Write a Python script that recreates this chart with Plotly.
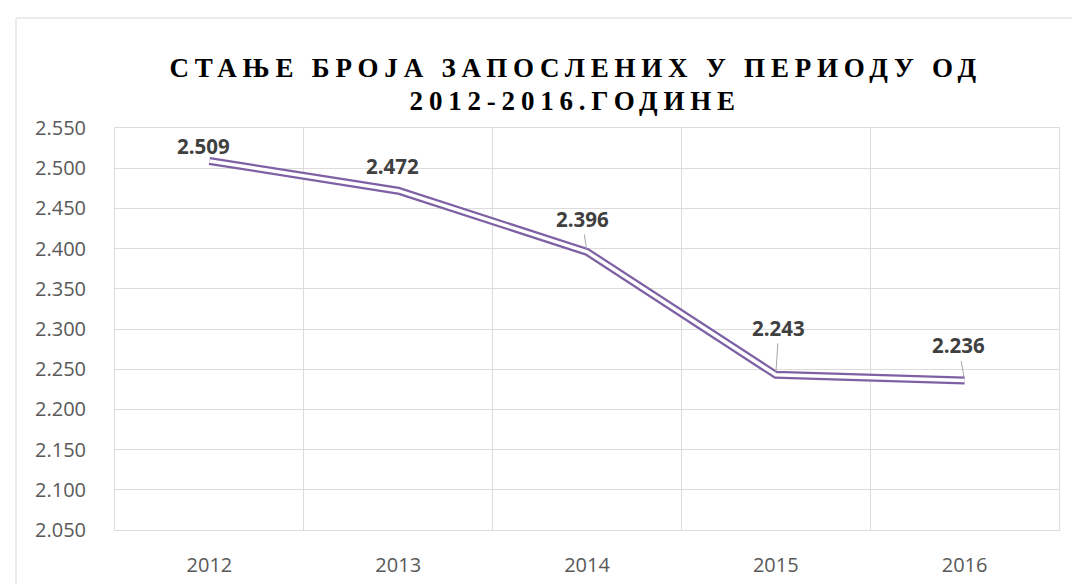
import plotly.graph_objects as go

# ---- data ----
years = ["2012", "2013", "2014", "2015", "2016"]
employees = [2509, 2472, 2396, 2243, 2236]
y_ticks = list(range(2050, 2551, 50))
title_lines = ["СТАЊЕ БРОЈА ЗАПОСЛЕНИХ У ПЕРИОДУ ОД", "2012-2016.ГОДИНЕ"]

GRID = "#dcdcdc"
PURPLE = "#7E61A4"

fig = go.Figure()
fig.add_trace(go.Scatter(x=years, y=employees, mode="lines",
                         line=dict(color=PURPLE, width=8),
                         hoverinfo="skip", showlegend=False))
fig.add_trace(go.Scatter(x=years, y=employees, mode="lines",
                         line=dict(color="white", width=3.5),
                         hoverinfo="skip", showlegend=False))

# label offsets (pixels) and whether a leader line is shown
offsets = [(-6, -15, False), (-6, -25, False), (-5, -33, True), (3, -47, True), (-6, -35, True)]
annotations = []
for i, (v, (dx, dy, lead)) in enumerate(zip(employees, offsets)):
    txt = f"{v:,}".replace(",", ".")
    base = dict(x=i, y=v, xref="x", yref="y", text=txt,
                font=dict(family="Open Sans", size=20.5, color="#404040", weight="bold"))
    if lead:
        base.update(showarrow=True, arrowhead=0, arrowwidth=1, arrowcolor="#a6a6a6",
                    ax=dx, ay=dy, standoff=3)
    else:
        base.update(showarrow=False, xshift=dx, yshift=-dy)
    annotations.append(base)

# two-line chart title (pixel rows converted to paper units)
for line, py in zip(title_lines, [60, 93]):
    annotations.append(dict(
        text=line, xref="paper", yref="paper",
        x=(567.5 - 107) / 944, y=(522 - py) / 402,
        xanchor="center", yanchor="middle", showarrow=False,
        font=dict(family="Liberation Serif", size=27, color="#000000", weight="bold")))

fig.update_layout(
    width=1080, height=584,
    margin=dict(l=107, r=29, t=120, b=62),
    paper_bgcolor="white", plot_bgcolor="white",
    separators=",.",
    xaxis=dict(type="category", tickson="boundaries", range=[-0.5, 4.5],
               showgrid=True, gridcolor=GRID, gridwidth=1,
               showline=True, mirror=True, linecolor=GRID, ticks="",
               tickfont=dict(family="Open Sans", size=20, color="#595959"),
               ticklabelstandoff=17),
    yaxis=dict(range=[2050, 2550], tickvals=y_ticks, tickformat=",d",
               showgrid=True, gridcolor=GRID, gridwidth=1, zeroline=False,
               showline=True, mirror=True, linecolor=GRID, ticks="",
               tickfont=dict(family="Open Sans", size=20, color="#595959"),
               ticklabelstandoff=24),
    annotations=annotations,
    shapes=[dict(type="rect", xref="paper", yref="paper",
                 x0=-99 / 944, x1=1.2, y0=-0.3, y1=(522 - 10) / 402,
                 line=dict(color="#d9d9d9", width=1), layer="below")],
)

post = ("document.querySelectorAll('.annotation-text').forEach(function(e){"
        "if((e.textContent||'').indexOf('ОД')>=0){e.style.letterSpacing='5.8px';}});")
fig.write_html("out.html", post_script=post)
